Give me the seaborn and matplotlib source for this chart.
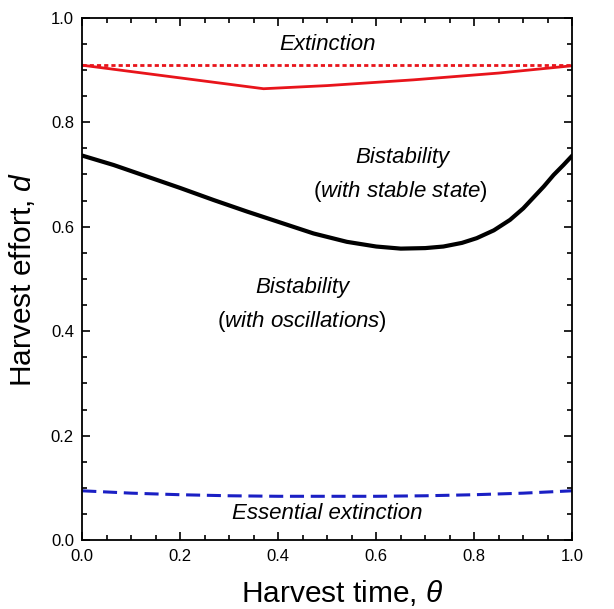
import numpy as np
import pandas as pd
import matplotlib
matplotlib.use("Agg")
import matplotlib.pyplot as plt
from matplotlib.ticker import MultipleLocator
import seaborn as sns

# values
theta_black = [0.0, 0.064, 0.132, 0.2, 0.268, 0.336, 0.404, 0.472, 0.54, 0.6, 0.65,
               0.7, 0.737, 0.775, 0.805, 0.84, 0.873, 0.9, 0.921, 0.942, 0.962, 0.982, 1.0]
d_black = [0.736, 0.718, 0.696, 0.674, 0.651, 0.629, 0.608, 0.587, 0.571, 0.562, 0.558,
           0.559, 0.562, 0.569, 0.578, 0.593, 0.613, 0.635, 0.656, 0.677, 0.699, 0.718, 0.736]

theta_red = [0.0, 0.37, 0.5, 0.676, 0.85, 1.0]
d_red = [0.909, 0.864, 0.870, 0.881, 0.894, 0.908]

theta_dot = [0.0, 1.0]
d_dot = [0.909, 0.909]

theta_blue = [0.0, 0.1, 0.2, 0.3, 0.4, 0.5, 0.6, 0.7, 0.8, 0.9, 1.0]
d_blue = [0.0945, 0.090, 0.087, 0.085, 0.084, 0.084, 0.084, 0.085, 0.087, 0.090, 0.0945]

sns.set_style("ticks")
plt.rcParams['font.family'] = ['Liberation Sans', 'DejaVu Sans']
plt.rcParams['mathtext.fontset'] = 'custom'
plt.rcParams['mathtext.it'] = 'Liberation Sans:italic'
plt.rcParams['mathtext.rm'] = 'Liberation Sans'
plt.rcParams['text.color'] = 'black'
plt.rcParams['axes.labelcolor'] = 'black'
plt.rcParams['xtick.color'] = 'black'
plt.rcParams['ytick.color'] = 'black'

fig, ax = plt.subplots(figsize=(6.14, 6.09), dpi=100)
fig.subplots_adjust(left=0.134, right=0.932, top=0.971, bottom=0.113)

sns.lineplot(x=theta_dot, y=d_dot, ax=ax, color='#e8141b', lw=2, linestyle=(0, (1.5, 1.1)))
sns.lineplot(x=theta_red, y=d_red, ax=ax, color='#e8141b', lw=2)
sns.lineplot(x=theta_black, y=d_black, ax=ax, color='black', lw=3)
sns.lineplot(x=theta_blue, y=d_blue, ax=ax, color='#1a1fc4', lw=2.2, linestyle=(0, (4.6, 2.2)))

ax.set_xlim(0, 1)
ax.set_ylim(0, 1)
ax.xaxis.set_major_locator(MultipleLocator(0.2))
ax.yaxis.set_major_locator(MultipleLocator(0.2))
ax.xaxis.set_minor_locator(MultipleLocator(0.05))
ax.yaxis.set_minor_locator(MultipleLocator(0.05))
ax.tick_params(which='both', direction='in', top=True, right=True, labelsize=12, width=1.2)
ax.tick_params(which='major', length=6, pad=6)
ax.tick_params(which='minor', length=3.5)
for s in ax.spines.values():
    s.set_linewidth(1.3)
    s.set_color('black')

ax.set_xlabel(r'Harvest time, $\it{\theta}$', fontsize=21.5)
ax.set_ylabel(r'Harvest effort, $\it{d}$', fontsize=21.5, labelpad=10)
ax.xaxis.set_label_coords(0.53, -0.072)

kw = dict(ha='center', va='center', fontsize=16)
ax.text(0.5, 0.948, 'Extinction', style='italic', **kw)
ax.text(0.653, 0.733, 'Bistability', style='italic', **kw)
ax.text(0.65, 0.667, r'($\it{with\ stable\ state}$)', **kw)
ax.text(0.449, 0.483, 'Bistability', style='italic', **kw)
ax.text(0.449, 0.418, r'($\it{with\ oscillations}$)', **kw)
ax.text(0.5, 0.052, 'Essential extinction', style='italic', **kw)

fig.savefig('out.png', dpi=100)
